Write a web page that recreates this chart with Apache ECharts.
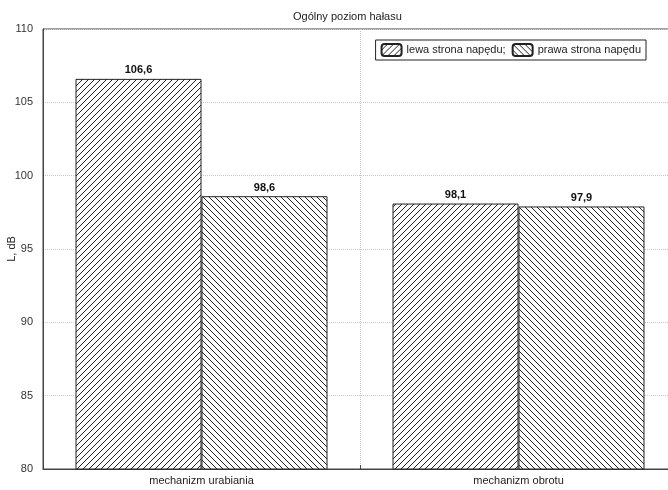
<!DOCTYPE html>
<html>
<head>
<meta charset="utf-8">
<script src="https://cdn.jsdelivr.net/npm/echarts@6/dist/echarts.min.js"></script>
<style>
  html, body { margin: 0; padding: 0; background: #fff; }
  #chart { width: 668px; height: 490px; }
</style>
</head>
<body>
<div id="chart"></div>
<script>
  // dane
  var categories = ['mechanizm urabiania', 'mechanizm obrotu'];
  var seriesNames = ['lewa strona napędu;', 'prawa strona napędu'];
  var lewa = [106.6, 98.1];
  var prawa = [98.6, 97.9];
  var yTicks = [80, 85, 90, 95, 100, 105, 110];

  // kreskowanie
  function hatch(dir) {
    var s = 6;
    var c = document.createElement('canvas');
    c.width = s; c.height = s;
    var ctx = c.getContext('2d');
    ctx.fillStyle = '#fff';
    ctx.fillRect(0, 0, s, s);
    ctx.strokeStyle = '#222';
    ctx.lineWidth = 1;
    ctx.beginPath();
    if (dir > 0) {
      ctx.moveTo(-1, s + 1); ctx.lineTo(s + 1, -1);
      ctx.moveTo(-1, 1); ctx.lineTo(1, -1);
      ctx.moveTo(s - 1, s + 1); ctx.lineTo(s + 1, s - 1);
    } else {
      ctx.moveTo(-1, -1); ctx.lineTo(s + 1, s + 1);
      ctx.moveTo(s - 1, -1); ctx.lineTo(s + 1, 1);
      ctx.moveTo(-1, s - 1); ctx.lineTo(1, s + 1);
    }
    ctx.stroke();
    return { image: c, repeat: 'repeat' };
  }

  var font = 'Liberation Sans';
  var fmt = function (p) { return String(p.value.toFixed(1)).replace('.', ','); };

  var chart = echarts.init(document.getElementById('chart'));
  chart.setOption({
    animation: false,
    title: {
      text: 'Ogólny poziom hałasu',
      left: 288, top: 6,
      textStyle: { fontFamily: font, fontSize: 11, fontWeight: 'normal', color: '#222' }
    },
    legend: {
      data: seriesNames,
      right: 22, top: 40,
      orient: 'horizontal',
      itemWidth: 20, itemHeight: 12, itemGap: 6,
      padding: [3, 5, 3, 5],
      borderColor: '#222', borderWidth: 1,
      textStyle: { fontFamily: font, fontSize: 11, color: '#222' }
    },
    grid: {
      left: 43, right: -9, top: 29, bottom: 21,
      containLabel: false, outerBoundsMode: 'none',
      show: true, borderColor: '#444', borderWidth: 1
    },
    xAxis: {
      type: 'category',
      data: categories,
      axisLine: { lineStyle: { color: '#444' } },
      axisTick: { show: true, inside: true, length: 4, lineStyle: { color: '#444' } },
      axisLabel: { fontFamily: font, fontSize: 11, color: '#222', margin: 6 },
      splitLine: { show: true, lineStyle: { color: '#c8c8c8', type: 'dotted' } }
    },
    yAxis: {
      type: 'value',
      min: yTicks[0], max: yTicks[yTicks.length - 1], interval: 5,
      name: 'L, dB',
      nameLocation: 'middle', nameGap: 26, nameMoveOverlap: false,
      nameTextStyle: { fontFamily: font, fontSize: 11, color: '#222' },
      axisLine: { show: true, lineStyle: { color: '#444' } },
      axisTick: { show: false },
      axisLabel: { fontFamily: font, fontSize: 11, color: '#333', margin: 10 },
      splitLine: { show: true, lineStyle: { color: '#c8c8c8', type: 'dotted' } }
    },
    series: [
      {
        name: seriesNames[0], type: 'bar', data: lewa,
        barWidth: 126, barGap: '0%',
        itemStyle: { color: hatch(1), borderColor: '#222', borderWidth: 1 },
        label: { show: true, position: 'top', distance: 3, formatter: fmt,
          fontFamily: font, fontSize: 11, fontWeight: 'bold', color: '#111' }
      },
      {
        name: seriesNames[1], type: 'bar', data: prawa,
        barWidth: 126,
        itemStyle: { color: hatch(-1), borderColor: '#222', borderWidth: 1 },
        label: { show: true, position: 'top', distance: 3, formatter: fmt,
          fontFamily: font, fontSize: 11, fontWeight: 'bold', color: '#111' }
      }
    ]
  });
</script>
</body>
</html>
